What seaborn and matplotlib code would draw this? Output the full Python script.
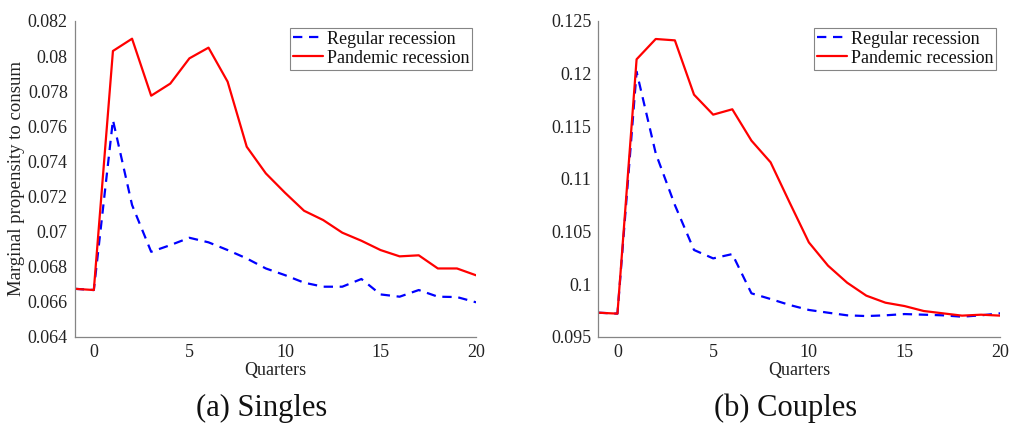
import matplotlib
matplotlib.use("Agg")
import matplotlib.pyplot as plt
import seaborn as sns
import pandas as pd

quarters = list(range(-1, 21))

singles_regular = [0.06673, 0.06666, 0.07635, 0.07151, 0.06884, 0.06922, 0.06964, 0.06938,
                   0.06894, 0.06846, 0.06789, 0.06751, 0.06708, 0.06685, 0.06685, 0.06729,
                   0.06641, 0.06628, 0.06666, 0.06628, 0.06626, 0.06596]
singles_pandemic = [0.06673, 0.06666, 0.08029, 0.08099, 0.07774, 0.07843, 0.07987, 0.08048,
                    0.07854, 0.07483, 0.07331, 0.07221, 0.07118, 0.07065, 0.06993, 0.06947,
                    0.06894, 0.06858, 0.06864, 0.06789, 0.06789, 0.06750]
couples_regular = [0.09728, 0.09719, 0.12018, 0.11242, 0.10751, 0.10324, 0.10244, 0.10285,
                   0.09912, 0.09858, 0.09801, 0.09754, 0.09728, 0.09703, 0.09696, 0.09703,
                   0.09715, 0.09709, 0.09703, 0.09690, 0.09703, 0.09722]
couples_pandemic = [0.09728, 0.09719, 0.12136, 0.12329, 0.12316, 0.11800, 0.11610, 0.11661,
                    0.11363, 0.11157, 0.10773, 0.10396, 0.10175, 0.10013, 0.09890, 0.09823,
                    0.09791, 0.09744, 0.09722, 0.09700, 0.09709, 0.09700]

series_labels = ["Regular recession", "Pandemic recession"]
panel_titles = ["(a) Singles", "(b) Couples"]
ylabel_text = "Marginal propensity to consum"
xlabel_text = "Quarters"
xticks = [0, 5, 10, 15, 20]
yticks_singles = [0.064, 0.066, 0.068, 0.07, 0.072, 0.074, 0.076, 0.078, 0.08, 0.082]
yticklabels_singles = ["0.064", "0.066", "0.068", "0.07", "0.072", "0.074", "0.076", "0.078", "0.08", "0.082"]
yticks_couples = [0.095, 0.1, 0.105, 0.11, 0.115, 0.12, 0.125]
yticklabels_couples = ["0.095", "0.1", "0.105", "0.11", "0.115", "0.12", "0.125"]

sns.set_theme(style="white")
plt.rcParams['font.family'] = ['Liberation Serif', 'DejaVu Serif']

fig = plt.figure(figsize=(10.11, 4.25), dpi=100)
fig.patch.set_facecolor("white")
ax1 = fig.add_axes([0.0739, 0.2078, 0.397, 0.7428])
ax2 = fig.add_axes([0.5918, 0.2078, 0.3976, 0.7428])

panels = [
    (ax1, singles_regular, singles_pandemic, (0.064, 0.082), yticks_singles, yticklabels_singles),
    (ax2, couples_regular, couples_pandemic, (0.095, 0.125), yticks_couples, yticklabels_couples),
]

spine_color = "#858585"
text_color = "#222222"
for i, (ax, reg, pan, ylim, yt, ytl) in enumerate(panels):
    df = pd.DataFrame({"q": quarters, "reg": reg, "pan": pan})
    sns.lineplot(data=df, x="q", y="reg", ax=ax, color="#0000ff", linewidth=1.6,
                 label=series_labels[0])
    ax.lines[-1].set_dashes([4.2, 3.0])
    sns.lineplot(data=df, x="q", y="pan", ax=ax, color="#ff0000", linewidth=1.6,
                 label=series_labels[1])
    ax.set_xlim(-1, 20)
    ax.set_ylim(*ylim)
    ax.set_xticks(xticks)
    ax.set_xticklabels([str(t) for t in xticks])
    ax.set_yticks(yt)
    ax.set_yticklabels(ytl)
    ax.set_facecolor("white")
    for s in ["top", "right"]:
        ax.spines[s].set_visible(False)
    for s in ["left", "bottom"]:
        ax.spines[s].set_color(spine_color)
        ax.spines[s].set_linewidth(0.9)
    ax.tick_params(axis="both", direction="in", length=4, width=0.8, color=spine_color,
                   labelsize=13, labelcolor=text_color)
    ax.tick_params(axis="x", pad=5)
    ax.tick_params(axis="y", pad=5)
    ax.set_xlabel(xlabel_text, fontsize=13, color=text_color, labelpad=1)
    ax.set_ylabel(ylabel_text if i == 0 else "", fontsize=13.5, color=text_color, labelpad=2)
    leg = ax.legend(loc="upper right", bbox_to_anchor=(0.99, 0.978), fontsize=13,
                    frameon=True, fancybox=False, framealpha=1, borderpad=0.15,
                    handlelength=1.7, handletextpad=0.2, labelspacing=0.12,
                    borderaxespad=0.0)
    leg.get_frame().set_edgecolor(spine_color)
    leg.get_frame().set_linewidth(0.8)
    for t in leg.get_texts():
        t.set_color("#111111")

fig.text(262 / 1011, 1 - 408 / 425, panel_titles[0], ha="center", va="center", fontsize=22, color="#111111")
fig.text(786 / 1011, 1 - 408 / 425, panel_titles[1], ha="center", va="center", fontsize=22, color="#111111")

fig.savefig("out.png", dpi=100, facecolor="white")
